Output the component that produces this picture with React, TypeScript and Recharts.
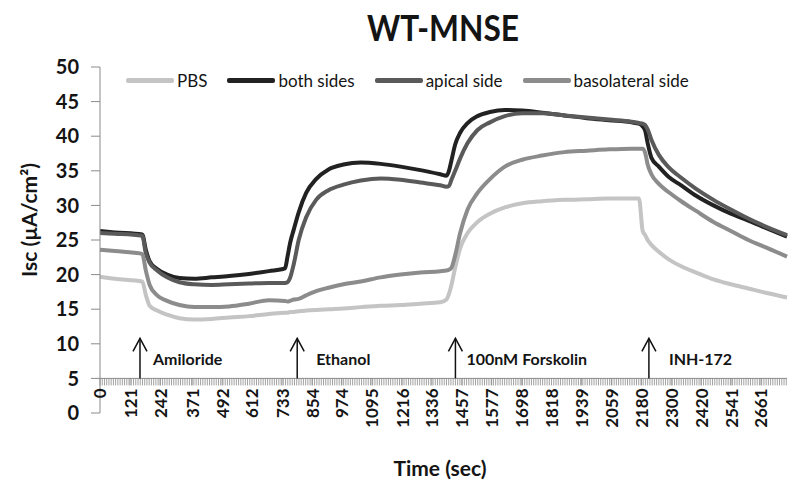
import { LineChart, Line, XAxis, YAxis, ReferenceLine, ReferenceDot, Legend } from "recharts";

// time (sec) of each sample
const timeSec = [
  0, 60, 170, 185, 200, 230, 270, 320, 380, 450,
  520, 600, 680, 745, 755, 765, 780, 800, 830, 870,
  920, 980, 1050, 1130, 1210, 1290, 1370, 1395, 1405, 1415,
  1430, 1450, 1480, 1520, 1570, 1630, 1700, 1780, 1870, 1960,
  2050, 2140, 2170, 2185, 2195, 2205, 2220, 2250, 2290, 2340,
  2400, 2470, 2540, 2610, 2690, 2766,
];

const pbs = [
  19.7, 19.4, 19.0, 17.0, 15.5, 14.8, 14.2, 13.7, 13.5, 13.6,
  13.8, 14.0, 14.3, 14.5, 14.5, 14.6, 14.6, 14.7, 14.8, 14.9,
  15.0, 15.1, 15.3, 15.5, 15.6, 15.8, 16.0, 16.4, 17.2, 18.5,
  21.0, 23.8, 26.0, 27.6, 28.8, 29.7, 30.3, 30.6, 30.8, 30.9,
  31.0, 31.0, 31.0, 26.3, 25.7, 25.0, 24.3, 23.3, 22.2, 21.2,
  20.3, 19.3, 18.6, 18.0, 17.3, 16.7,
];

const bothSides = [
  26.3, 26.1, 25.8, 23.5, 21.9, 20.8, 20.0, 19.5, 19.4, 19.6,
  19.8, 20.1, 20.5, 20.9, 22.6, 24.5, 26.5, 29.0, 31.8, 33.8,
  35.2, 35.9, 36.2, 36.0, 35.6, 35.1, 34.5, 34.3, 35.0, 36.5,
  38.8, 40.5, 41.9, 42.9, 43.5, 43.8, 43.7, 43.4, 43.0, 42.6,
  42.3, 42.0, 41.8, 41.4, 40.8, 39.0, 36.9, 35.6, 34.1, 32.9,
  31.4, 30.0, 28.8, 27.8, 26.6, 25.5,
];

const apicalSide = [
  26.0, 25.9, 25.6, 23.0, 21.7, 20.6, 19.6, 18.9, 18.6, 18.5,
  18.6, 18.7, 18.8, 18.8, 18.9, 19.5, 21.5, 25.0, 28.3, 30.8,
  32.2, 33.0, 33.6, 33.9, 33.7, 33.3, 32.9, 32.7, 32.8, 33.7,
  35.0, 36.8, 39.0, 40.9, 42.0, 42.9, 43.3, 43.3, 43.0, 42.7,
  42.4, 42.1, 41.9, 41.8, 41.6, 41.0, 39.5, 37.3, 35.5, 34.0,
  32.4, 30.8, 29.4, 28.1, 26.8, 25.7,
];

const basolateralSide = [
  23.6, 23.4, 23.0, 20.5, 18.5, 17.0, 16.2, 15.6, 15.3, 15.3,
  15.4, 15.8, 16.3, 16.2, 16.1, 16.2, 16.4, 16.5, 17.0, 17.6,
  18.1, 18.6, 19.0, 19.6, 20.0, 20.3, 20.5, 20.6, 20.7, 21.0,
  22.8, 26.0, 29.4, 31.8, 33.8, 35.6, 36.6, 37.2, 37.7, 37.9,
  38.1, 38.2, 38.2, 38.2, 37.6, 35.9, 34.5, 33.1, 31.9, 30.6,
  29.2, 27.6, 26.3, 25.0, 23.8, 22.6,
];

const timeLabels = [
  0, 121, 242, 371, 492, 612, 733, 854, 974, 1095, 1216, 1336,
  1457, 1577, 1698, 1818, 1939, 2059, 2180, 2300, 2420, 2541, 2661,
];
const yTicks = [0, 5, 10, 15, 20, 25, 30, 35, 40, 45, 50];

const eventTimes = [161, 794, 1431, 2210];
const eventNames = ["Amiloride", "Ethanol", "100nM Forskolin", "INH-172"];
const eventLabelDx = [13, 19, 11, 20];

const series = [
  { key: "pbs", name: "PBS", color: "#c4c4c4" },
  { key: "both", name: "both sides", color: "#222222" },
  { key: "apical", name: "apical side", color: "#5a5a5a" },
  { key: "baso", name: "basolateral side", color: "#8c8c8c" },
];

const data = timeSec.map((t, i) => ({
  t,
  pbs: pbs[i],
  both: bothSides[i],
  apical: apicalSide[i],
  baso: basolateralSide[i],
}));

const X_MAX = 2766;
// dense minor ticks along the time axis, like the Excel category ticks
const minorTicks = Array.from({ length: Math.floor(X_MAX / 9) + 1 }, (_, i) => i * 9);
const allTicks = Array.from(new Set([...minorTicks, ...timeLabels])).sort((a, b) => a - b);

const PLOT_TOP = 67;
const PLOT_BOTTOM = 413;
const AXIS_Y = PLOT_BOTTOM - 5 * ((PLOT_BOTTOM - PLOT_TOP) / 50);
const FONT = "Lato, 'Open Sans', sans-serif";
const AXIS_GREY = "#8a8a8a";
const INK = "#141414";

function TimeTick(props: any) {
  const { x, payload } = props;
  const showLabel = timeLabels.includes(payload.value);
  const ly = AXIS_Y + 10;
  return (
    <g>
      <line x1={x} x2={x} y1={AXIS_Y} y2={AXIS_Y + 7} stroke={AXIS_GREY} strokeWidth={0.8} />
      {showLabel && (
        <text
          x={x}
          y={ly}
          transform={`rotate(-90 ${x} ${ly})`}
          textAnchor="end"
          dominantBaseline="central"
          fontFamily={FONT}
          fontWeight={700}
          fontSize={17}
          fill={INK}
        >
          {payload.value}
        </text>
      )}
    </g>
  );
}

function EventArrow(props: any) {
  const { cx, cy, name, dx } = props;
  const tip = cy - 40;
  return (
    <g>
      <line x1={cx} x2={cx} y1={cy} y2={tip} stroke="#111" strokeWidth={1.5} />
      <polyline
        points={`${cx - 7},${tip + 13} ${cx},${tip} ${cx + 7},${tip + 13}`}
        fill="none"
        stroke="#111"
        strokeWidth={1.5}
      />
      <text
        x={cx + dx}
        y={cy - 20}
        dominantBaseline="central"
        fontFamily={FONT}
        fontWeight={700}
        fontSize={16}
        fill={INK}
      >
        {name}
      </text>
    </g>
  );
}

function LegendBox() {
  return (
    <div style={{ display: "flex", alignItems: "center", fontFamily: FONT, fontSize: 17, color: INK }}>
      {series.map((s) => (
        <div key={s.key} style={{ display: "flex", alignItems: "center", marginRight: 20 }}>
          <span style={{ display: "inline-block", width: 48, height: 5, background: s.color, borderRadius: 2 }} />
          <span style={{ marginLeft: 3 }}>{s.name}</span>
        </div>
      ))}
    </div>
  );
}

export default function App() {
  return (
    <div style={{ position: "absolute", left: 0, top: 0, width: 800, height: 493, background: "#fff", fontFamily: FONT }}>
      <div
        style={{
          position: "absolute", left: 443, top: 27, transform: "translate(-50%, -50%) scaleX(0.88)",
          whiteSpace: "nowrap", fontSize: 36, fontWeight: 700, color: INK, lineHeight: "40px",
        }}
      >
        WT-MNSE
      </div>
      <div
        style={{
          position: "absolute", left: 28, top: 220, transform: "translate(-50%, -50%) rotate(-90deg)",
          whiteSpace: "nowrap", fontSize: 21, fontWeight: 700, color: INK,
        }}
      >
        Isc (µA/cm²)
      </div>
      <div
        style={{
          position: "absolute", left: 440, top: 467, transform: "translate(-50%, -50%)",
          whiteSpace: "nowrap", fontSize: 21, fontWeight: 700, color: INK,
        }}
      >
        Time (sec)
      </div>
      <LineChart width={800} height={493} data={data} margin={{ top: PLOT_TOP, right: 13, bottom: 0, left: 0 }}>
        <XAxis
          type="number"
          dataKey="t"
          domain={[0, X_MAX]}
          ticks={allTicks}
          interval={0}
          height={80}
          axisLine={false}
          tickLine={false}
          tick={(p: any) => <TimeTick {...p} />}
        />
        <YAxis
          type="number"
          domain={[0, 50]}
          ticks={yTicks}
          width={100}
          axisLine={{ stroke: AXIS_GREY, strokeWidth: 1 }}
          tickLine={{ stroke: AXIS_GREY, strokeWidth: 1 }}
          tickSize={9}
          tickMargin={12}
          tick={{ fontFamily: FONT, fontWeight: 700, fontSize: 20, fill: INK }}
        />
        <ReferenceLine y={5} stroke={AXIS_GREY} strokeWidth={1} />
        {eventTimes.map((t, i) => (
          <ReferenceDot
            key={eventNames[i]}
            x={t}
            y={5}
            r={0}
            shape={(p: any) => <EventArrow {...p} name={eventNames[i]} dx={eventLabelDx[i]} />}
          />
        ))}
        <Legend
          verticalAlign="middle"
          align="center"
          layout="horizontal"
          wrapperStyle={{ top: 70, left: 126, width: 680 }}
          content={() => <LegendBox />}
        />
        {series.map((s) => (
          <Line
            key={s.key}
            type="monotone"
            dataKey={s.key}
            name={s.name}
            stroke={s.color}
            strokeWidth={4}
            dot={false}
            activeDot={false}
            isAnimationActive={false}
          />
        ))}
      </LineChart>
    </div>
  );
}
